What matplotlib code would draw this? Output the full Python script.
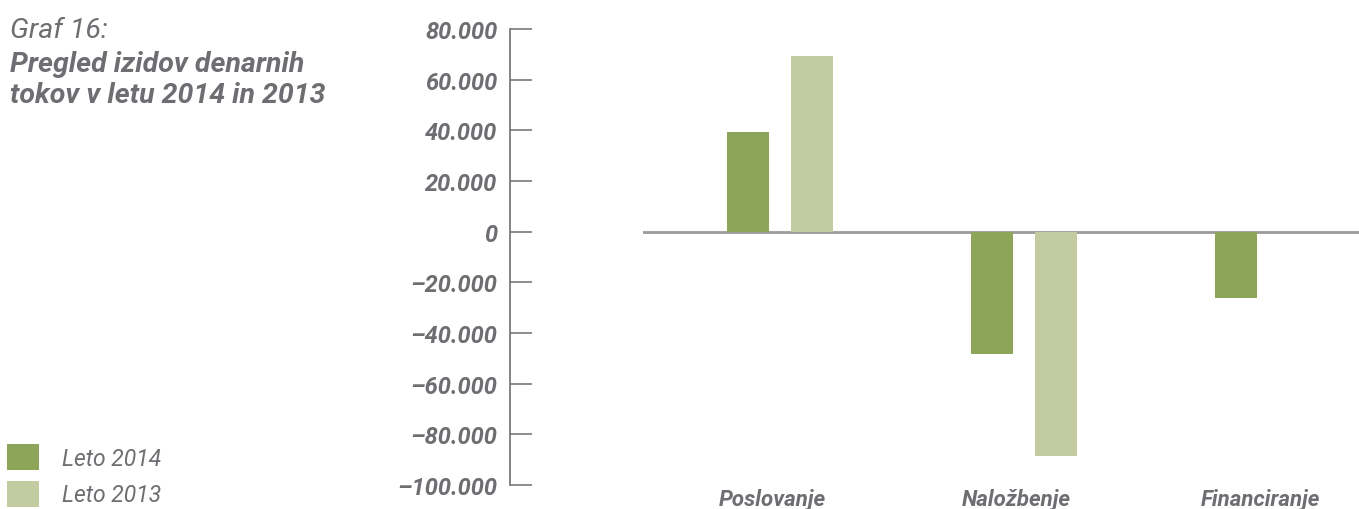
import matplotlib.pyplot as plt
import numpy as np
from matplotlib.patches import Patch

categories = ["Poslovanje", "Naložbenje", "Financiranje"]
leto_2014 = [39300, -48400, -26300]
leto_2013 = [69400, -88700, 0]
series_labels = ["Leto 2014", "Leto 2013"]
y_ticks = [80000, 60000, 40000, 20000, 0, -20000, -40000, -60000, -80000, -100000]

c2014 = "#8ca558"
c2013 = "#c3cba1"
gray = "#6d6e71"
font = "Roboto"

def fmt(v):
    # slovenian style: dot as thousands separator, en dash as minus
    s = f"{abs(v):,}".replace(",", ".")
    return ("–" + s) if v < 0 else s

W, H = 1359, 510
fig = plt.figure(figsize=(W / 100, H / 100), dpi=100)
bottom = (H - 486) / H
top = (H - 30) / H

# main plot area (only the zero line and bars)
ax = fig.add_axes([643 / W, bottom, 1 - 643 / W, top - bottom])
x = np.arange(len(categories))
w = 0.172
off = 0.131
ax.bar(x - off, leto_2014, w, color=c2014, zorder=3)
ax.bar(x + off, leto_2013, w, color=c2013, zorder=3)
ax.axhline(0, color="#9a9a9a", lw=2, zorder=2)
ax.set_xlim(-0.561, 2.373)
ax.set_ylim(-100000, 80000)
ax.axis("off")

# category labels under the plot, cut by the bottom edge
for xi, name in zip(x, categories):
    ax.annotate(name, xy=(xi - 0.03, 0), xycoords=("data", "figure fraction"),
                xytext=(0, (H - 489) / H), textcoords=("offset points", "figure fraction"),
                ha="center", va="top", fontsize=16, fontweight="bold",
                fontstyle="italic", color=gray, family=font)

# separate y axis on the left
ay = fig.add_axes([510 / W, bottom, 0.02, top - bottom])
ay.set_ylim(-100000, 80000)
ay.set_yticks(y_ticks)
ay.set_yticklabels([fmt(v) for v in y_ticks])
ay.set_xticks([])
for s in ["top", "right", "bottom"]:
    ay.spines[s].set_visible(False)
ay.spines["left"].set_color(gray)
ay.spines["left"].set_linewidth(1.2)
ay.patch.set_visible(False)
ay.tick_params(axis="y", direction="in", length=16, width=1.1, color=gray,
               pad=9, labelcolor=gray, labelsize=17)
for t in ay.get_yticklabels():
    t.set_fontweight("bold")
    t.set_fontstyle("italic")
    t.set_family(font)

# title
fig.text(10 / W, 1 - 38 / H, "Graf 16:", fontsize=20.5, fontstyle="italic",
         fontweight="normal", color=gray, family=font, va="baseline")
fig.text(10 / W, 1 - 72 / H, "Pregled izidov denarnih", fontsize=20.5,
         fontstyle="italic", fontweight="bold", color=gray, family=font, va="baseline")
fig.text(10 / W, 1 - 103 / H, "tokov v letu 2014 in 2013", fontsize=20.5,
         fontstyle="italic", fontweight="bold", color=gray, family=font, va="baseline")

# legend
handles = [Patch(facecolor=c2014, edgecolor="none"), Patch(facecolor=c2013, edgecolor="none")]
leg = fig.legend(handles, series_labels, loc="lower left",
                 bbox_to_anchor=(5 / W, 0.0), frameon=False,
                 handlelength=1.4, handleheight=1.38, handletextpad=1.0,
                 labelspacing=0.45, borderaxespad=0.0, borderpad=0.1,
                 prop={"family": font, "style": "italic", "weight": "normal", "size": 16.5})
for t in leg.get_texts():
    t.set_color(gray)

fig.savefig("out.png", dpi=100)
